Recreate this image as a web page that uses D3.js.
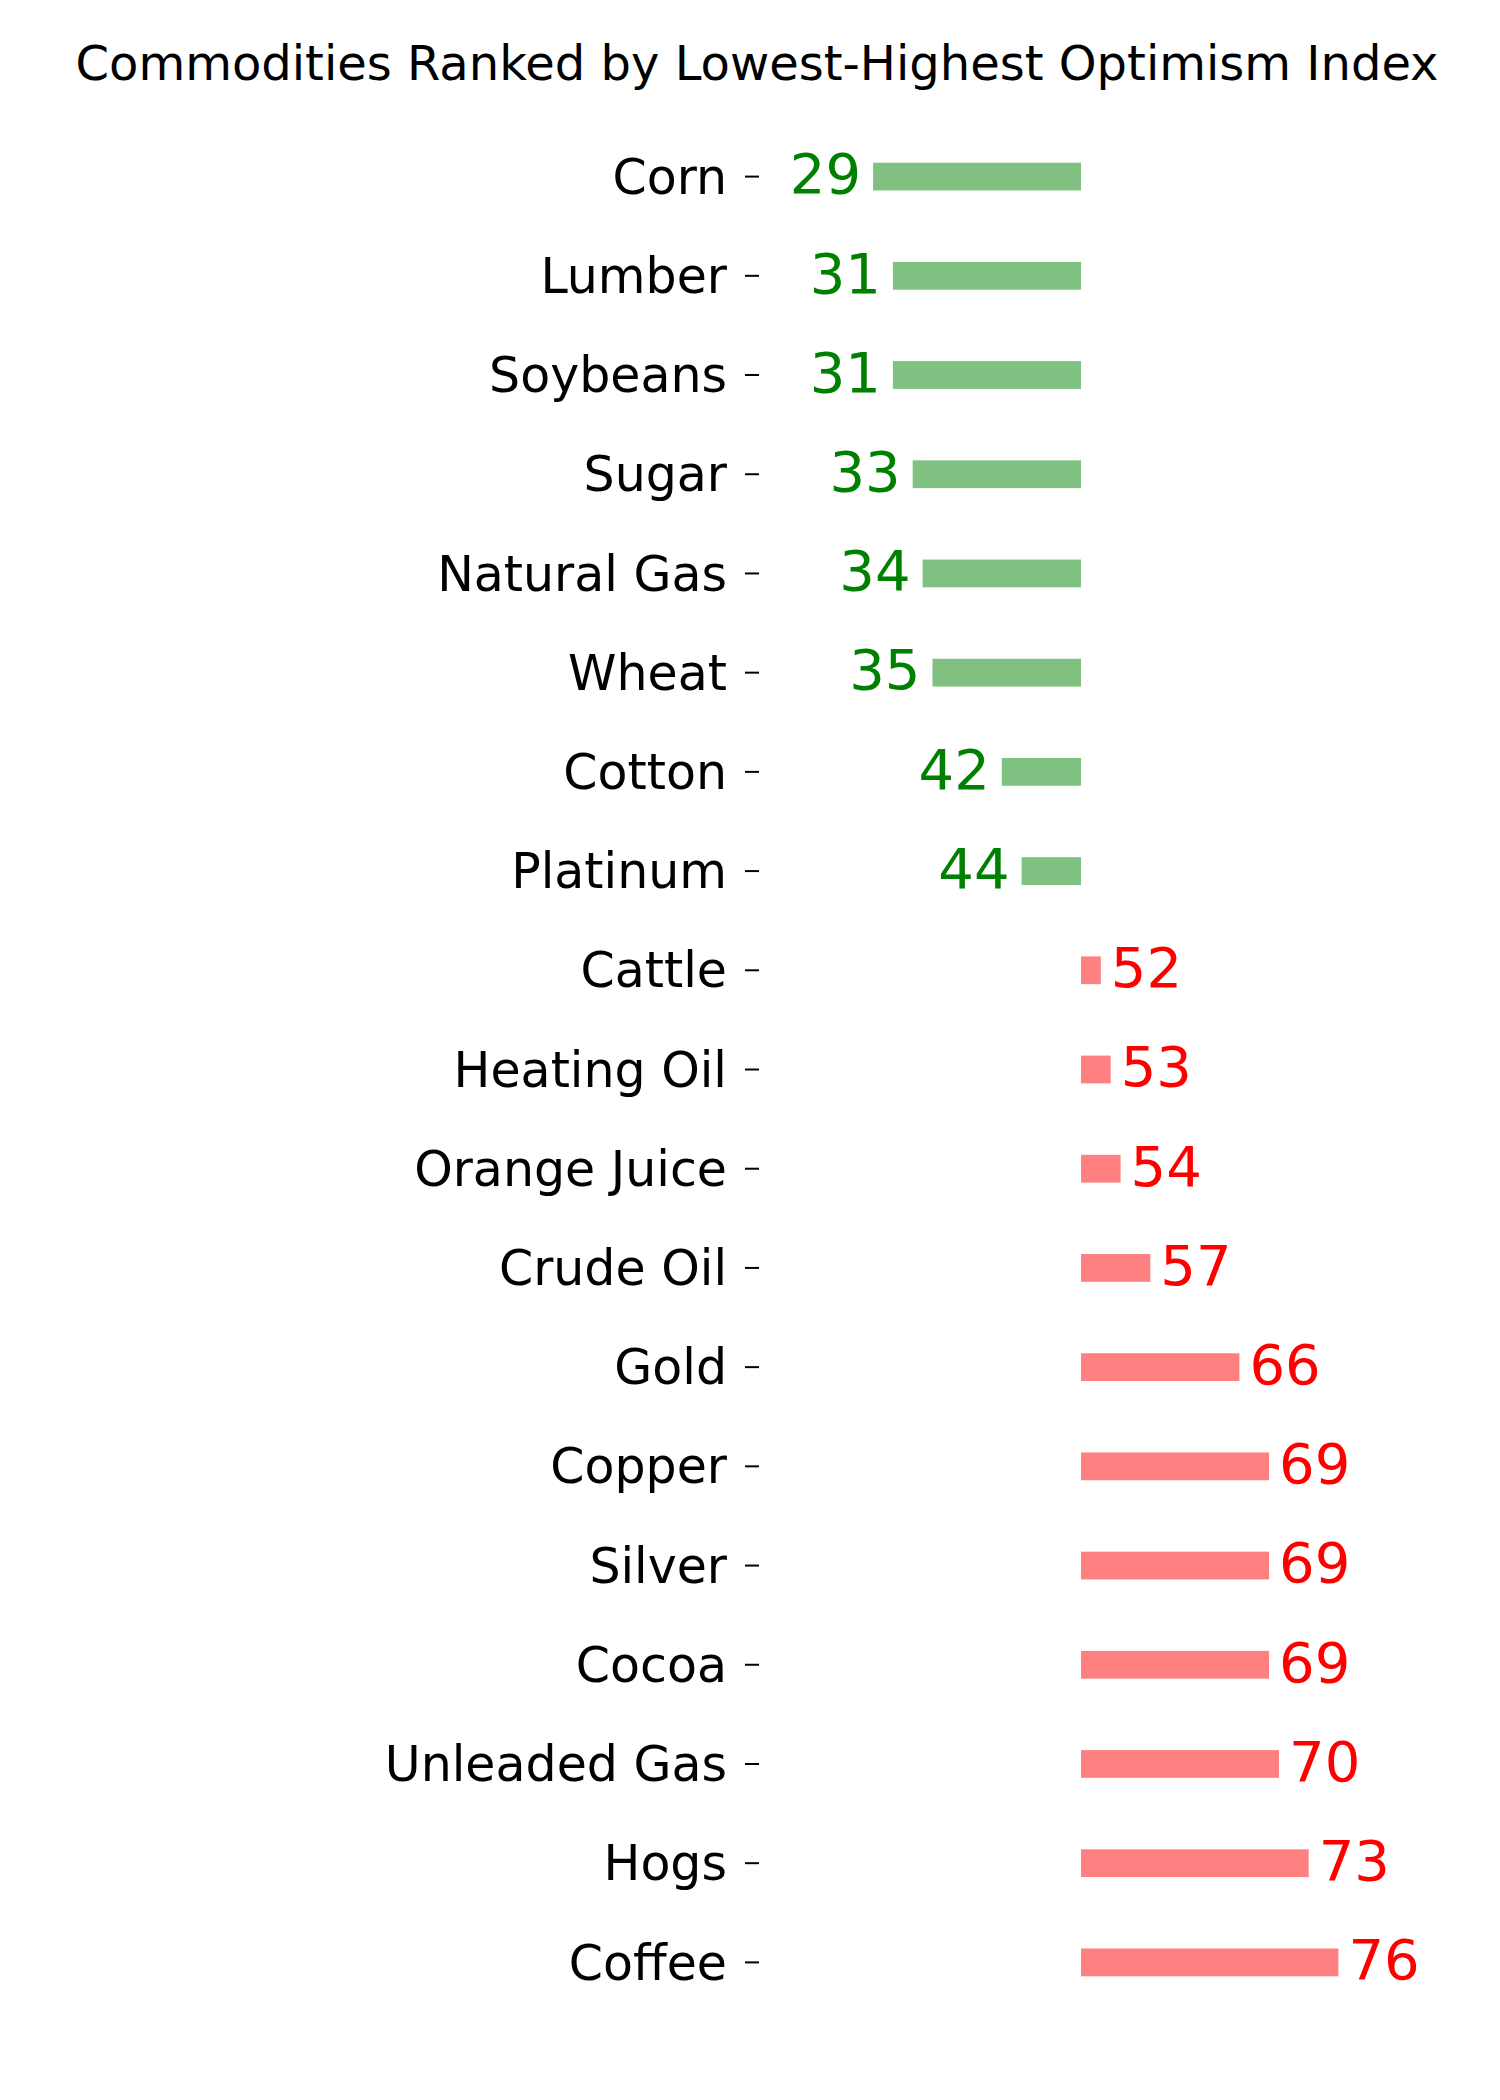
<!DOCTYPE html>
<html>
<head>
<meta charset="UTF-8" />
<script src="https://cdn.jsdelivr.net/npm/d3@7"></script>
<style>
  body { margin: 0; background: #fff; }
  text { font-family: "DejaVu Sans", sans-serif; }
</style>
</head>
<body>
<svg id="chart" width="1500" height="2100"></svg>
<script>
  // data
  const commodities = ['Corn', 'Lumber', 'Soybeans', 'Sugar', 'Natural Gas', 'Wheat', 'Cotton', 'Platinum',
    'Cattle', 'Heating Oil', 'Orange Juice', 'Crude Oil', 'Gold', 'Copper', 'Silver', 'Cocoa',
    'Unleaded Gas', 'Hogs', 'Coffee'];
  const optimism = [29, 31, 31, 33, 34, 35, 42, 44, 52, 53, 54, 57, 66, 69, 69, 69, 70, 73, 76];
  const midpoint = 50;

  const svg = d3.select('#chart');

  const x = d3.scaleLinear().domain([midpoint, midpoint + 1]).range([1081, 1090.9]);
  const y = d3.scaleBand().domain(commodities).range([127, 2012]).paddingInner(0.72).paddingOuter(0.36);

  svg.append('text')
    .attr('x', 757).attr('y', 80)
    .attr('text-anchor', 'middle')
    .attr('font-size', 48)
    .text('Commodities Ranked by Lowest-Highest Optimism Index');

  // axis: labels with short ticks, no domain line
  const yAxis = svg.append('g')
    .attr('transform', 'translate(759,0)')
    .call(d3.axisLeft(y).tickSize(14).tickPadding(18));
  yAxis.select('.domain').remove();
  yAxis.selectAll('text').attr('font-size', 49).attr('fill', '#000').attr('dy', '0.35em');
  yAxis.selectAll('line').attr('stroke-width', 2);

  const rows = svg.append('g').selectAll('g')
    .data(commodities.map((c, i) => ({ c, v: optimism[i] })))
    .join('g');

  rows.append('rect')
    .attr('x', (d) => Math.min(x(d.v), x(midpoint)))
    .attr('y', (d) => y(d.c))
    .attr('width', (d) => Math.abs(x(d.v) - x(midpoint)))
    .attr('height', y.bandwidth())
    .attr('fill', (d) => (d.v < midpoint ? '#80c080' : '#ff8080'));

  rows.append('text')
    .attr('x', (d) => (d.v < midpoint ? x(d.v) - 12 : x(d.v) + 10))
    .attr('y', (d) => y(d.c) + y.bandwidth() / 2)
    .attr('dy', '0.3em')
    .attr('text-anchor', (d) => (d.v < midpoint ? 'end' : 'start'))
    .attr('font-size', 56)
    .attr('fill', (d) => (d.v < midpoint ? '#008000' : '#ff0000'))
    .text((d) => d.v);
</script>
</body>
</html>
